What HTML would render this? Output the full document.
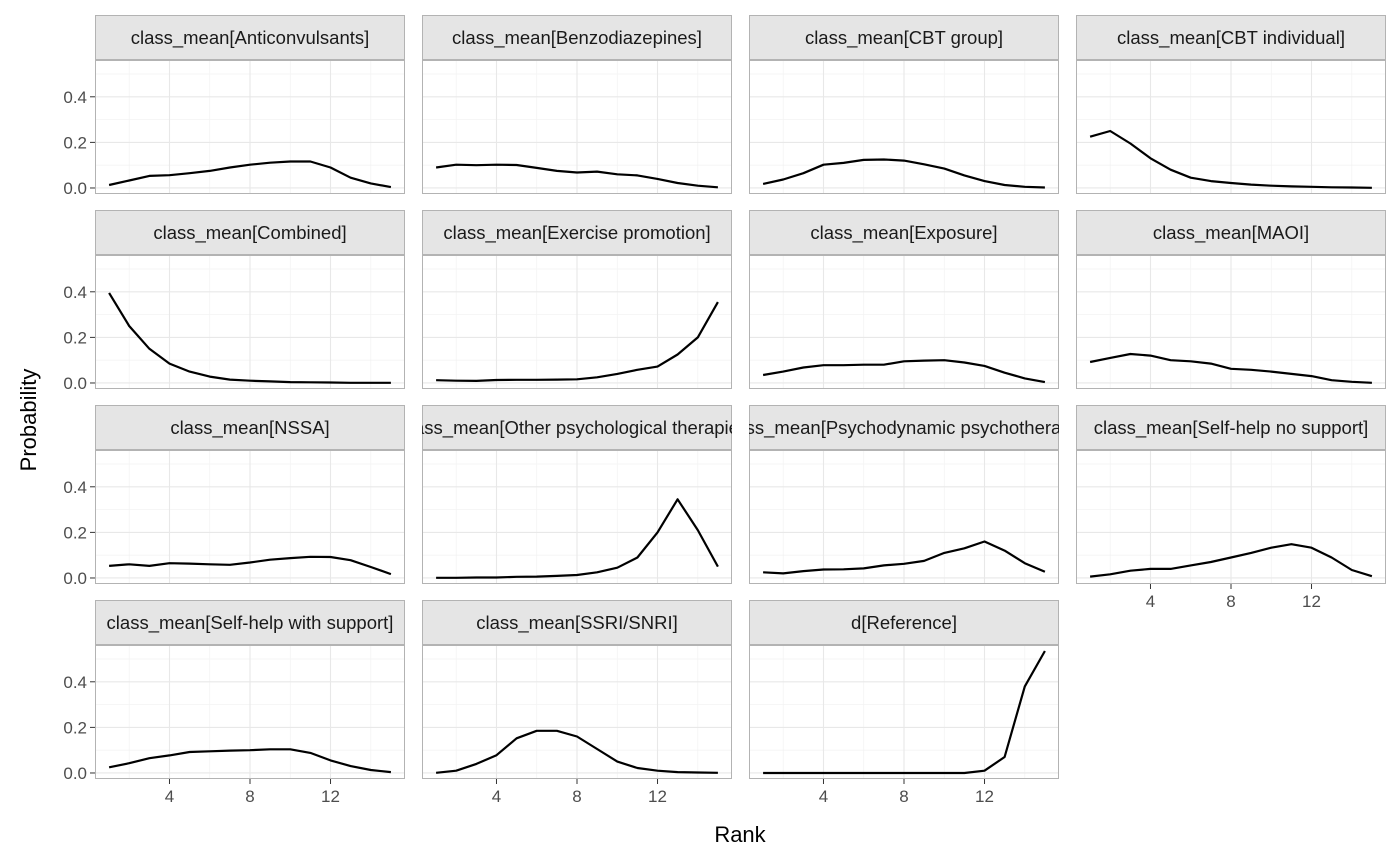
<!DOCTYPE html>
<html><head><meta charset="utf-8"><style>
html,body{margin:0;padding:0;background:#fff;}
svg{display:block;font-family:"Liberation Sans",Arial,sans-serif;}
</style></head><body>
<svg id="chart" width="1400" height="865" viewBox="0 0 1400 865"></svg>
<script>
const facetTitles=["class_mean[Anticonvulsants]","class_mean[Benzodiazepines]","class_mean[CBT group]","class_mean[CBT individual]","class_mean[Combined]","class_mean[Exercise promotion]","class_mean[Exposure]","class_mean[MAOI]","class_mean[NSSA]","class_mean[Other psychological therapies]","class_mean[Psychodynamic psychotherapy]","class_mean[Self-help no support]","class_mean[Self-help with support]","class_mean[SSRI/SNRI]","d[Reference]"];
const ranks=[1,2,3,4,5,6,7,8,9,10,11,12,13,14,15];
const sAnticonvulsants=[0.013,0.033,0.053,0.056,0.065,0.075,0.09,0.102,0.111,0.116,0.116,0.09,0.045,0.02,0.004];
const sBenzodiazepines=[0.09,0.102,0.1,0.102,0.101,0.088,0.075,0.068,0.072,0.06,0.055,0.04,0.022,0.01,0.003];
const sCBTgroup=[0.018,0.037,0.065,0.102,0.11,0.123,0.125,0.12,0.104,0.085,0.055,0.03,0.013,0.005,0.002];
const sCBTindividual=[0.225,0.25,0.195,0.13,0.08,0.045,0.03,0.022,0.015,0.01,0.007,0.005,0.003,0.002,0.001];
const sCombined=[0.395,0.25,0.15,0.085,0.05,0.028,0.015,0.01,0.007,0.004,0.003,0.002,0.001,0.001,0.001];
const sExercise=[0.012,0.01,0.009,0.013,0.014,0.014,0.015,0.016,0.025,0.04,0.058,0.072,0.125,0.2,0.355];
const sExposure=[0.035,0.05,0.068,0.078,0.078,0.08,0.08,0.095,0.098,0.1,0.09,0.075,0.045,0.02,0.004];
const sMAOI=[0.092,0.11,0.127,0.12,0.1,0.095,0.085,0.062,0.058,0.05,0.04,0.03,0.012,0.005,0.001];
const sNSSA=[0.053,0.06,0.053,0.065,0.063,0.06,0.058,0.068,0.08,0.087,0.093,0.092,0.078,0.048,0.017];
const sOtherPsych=[0.001,0.001,0.002,0.002,0.005,0.006,0.009,0.013,0.025,0.045,0.09,0.2,0.345,0.21,0.05];
const sPsychodynamic=[0.025,0.02,0.03,0.037,0.038,0.042,0.055,0.062,0.075,0.11,0.13,0.16,0.12,0.065,0.027];
const sSelfHelpNo=[0.006,0.016,0.032,0.04,0.04,0.055,0.07,0.09,0.11,0.133,0.148,0.133,0.09,0.035,0.008];
const sSelfHelpWith=[0.025,0.043,0.065,0.077,0.092,0.095,0.098,0.1,0.104,0.104,0.088,0.055,0.03,0.013,0.004];
const sSSRI=[0.001,0.01,0.04,0.078,0.152,0.185,0.185,0.16,0.105,0.05,0.022,0.01,0.004,0.002,0.001];
const sReference=[0,0,0,0,0,0,0,0,0,0,0,0.01,0.07,0.38,0.535];
const yTicks=[0,0.2,0.4];
const yTickLabels=["0.0","0.2","0.4"];
const xTicks=[4,8,12];
const xTickLabels=["4","8","12"];

const series=[sAnticonvulsants,sBenzodiazepines,sCBTgroup,sCBTindividual,sCombined,sExercise,sExposure,sMAOI,sNSSA,sOtherPsych,sPsychodynamic,sSelfHelpNo,sSelfHelpWith,sSSRI,sReference];
const NS="http://www.w3.org/2000/svg";
const svg=document.getElementById("chart");
function mk(tag,attrs,parent){const e=document.createElementNS(NS,tag);for(const k in attrs)e.setAttribute(k,attrs[k]);(parent||svg).appendChild(e);return e;}
const colX=[95,422,749,1076], panelW=310;
const rowTop=[15,210,405,600], stripH=45, panelH=134;
const xMin=0.3,xMax=15.7,yMin=-0.0264,yMax=0.5614;
const allMax=Math.max(...series.flat());
function sx(c,v){return colX[c]+(v-xMin)/(xMax-xMin)*panelW;}
function sy(r,v){const top=rowTop[r]+stripH;return top+panelH-(v-yMin)/(yMax-yMin)*panelH;}
const slug=s=>s.replace(/[^A-Za-z0-9]+/g,'-').replace(/^-|-$/g,'').toLowerCase();

series.forEach((vals,i)=>{
  const r=Math.floor(i/4), c=i%4;
  const g=mk("g",{});
  
  
  const pTop=rowTop[r]+stripH;
  mk("rect",{x:colX[c],y:pTop,width:panelW,height:panelH,fill:"#fff"},g);
  const clipId="clip"+i;
  const cp=mk("clipPath",{id:clipId},g);
  mk("rect",{x:colX[c],y:pTop,width:panelW,height:panelH},cp);
  // minor grid
  [0.1,0.3,0.5].forEach(v=>mk("line",{x1:colX[c],x2:colX[c]+panelW,y1:sy(r,v),y2:sy(r,v),stroke:"#f3f3f3","stroke-width":0.8},g));
  [2,6,10,14].forEach(v=>mk("line",{x1:sx(c,v),x2:sx(c,v),y1:pTop,y2:pTop+panelH,stroke:"#f3f3f3","stroke-width":0.8},g));
  yTicks.forEach(v=>mk("line",{x1:colX[c],x2:colX[c]+panelW,y1:sy(r,v),y2:sy(r,v),stroke:"#e8e8e8","stroke-width":1.1},g));
  xTicks.forEach(v=>mk("line",{x1:sx(c,v),x2:sx(c,v),y1:pTop,y2:pTop+panelH,stroke:"#e8e8e8","stroke-width":1.1},g));
  const pts=vals.map((v,k)=>sx(c,ranks[k]).toFixed(1)+","+sy(r,v).toFixed(1)).join(" ");
  const line=mk("polyline",{points:pts,fill:"none",stroke:"#000","stroke-width":2.2,"stroke-linejoin":"round","clip-path":"url(#"+clipId+")"},g);
  
  
  mk("rect",{x:colX[c]+0.5,y:pTop+0.5,width:panelW-1,height:panelH-1,fill:"none",stroke:"#b3b3b3","stroke-width":1},g);
  // strip
  const sClip="sclip"+i;
  const scp=mk("clipPath",{id:sClip},g);
  mk("rect",{x:colX[c],y:rowTop[r],width:panelW,height:stripH},scp);
  const strip=mk("rect",{x:colX[c]+0.5,y:rowTop[r]+0.5,width:panelW-1,height:stripH-1,fill:"#e5e5e5",stroke:"#b3b3b3","stroke-width":1},g);
  
  
  const t=mk("text",{x:colX[c]+panelW/2,y:rowTop[r]+29,"text-anchor":"middle","font-size":"18.5",fill:"#1a1a1a","clip-path":"url(#"+sClip+")"},g);
  t.textContent=facetTitles[i];
  
  
  // y axis
  if(c===0){
    yTicks.forEach((v,k)=>{
      mk("line",{x1:colX[c]-5,x2:colX[c],y1:sy(r,v),y2:sy(r,v),stroke:"#333","stroke-width":1},g);
      const yt=mk("text",{x:colX[c]-8,y:sy(r,v)+6,"text-anchor":"end","font-size":"17",fill:"#4d4d4d"},g);
      yt.textContent=yTickLabels[k];
      
      
    });
  }
  // x axis
  const isBottom=(r===3)||(r===2&&c===3);
  if(isBottom){
    xTicks.forEach((v,k)=>{
      mk("line",{x1:sx(c,v),x2:sx(c,v),y1:pTop+panelH,y2:pTop+panelH+5,stroke:"#333","stroke-width":1},g);
      const xt=mk("text",{x:sx(c,v),y:pTop+panelH+23,"text-anchor":"middle","font-size":"17",fill:"#4d4d4d"},g);
      xt.textContent=xTickLabels[k];
      
      
    });
  }
});
const yt=mk("text",{x:0,y:0,transform:"translate(36,420) rotate(-90)","text-anchor":"middle","font-size":"22",fill:"#000"});
yt.textContent="Probability";


const xt=mk("text",{x:740,y:842,"text-anchor":"middle","font-size":"22",fill:"#000"});
xt.textContent="Rank";


</script>
</body></html>
